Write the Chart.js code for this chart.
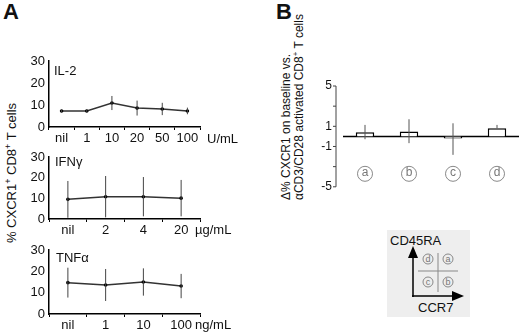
<!DOCTYPE html>
<html>
<head>
<meta charset="utf-8">
<script src="https://cdn.jsdelivr.net/npm/chart.js@4"></script>
<style>
  body { margin: 0; background: #fff; font-family: 'Liberation Sans', Arial, sans-serif; color: #111; }
  #wrap { position: relative; width: 520px; height: 334px; overflow: hidden; }
  canvas, .t, svg { position: absolute; }
  .t { font-size: 13px; line-height: 15px; white-space: nowrap; }
  .panel { font-size: 22px; font-weight: bold; line-height: 22px; }
</style>
</head>
<body>
<div id="wrap">
  <div class="t panel" style="left:3px;top:1px">A</div>
  <div class="t panel" style="left:276px;top:1px">B</div>

  <div class="t" style="left:10px;top:173px;transform:translate(-50%,-50%) rotate(-90deg)">% CXCR1<sup style="font-size:9px">+</sup> CD8<sup style="font-size:9px">+</sup> T cells</div>

  <canvas id="il2" width="240" height="97" style="left:0;top:50px"></canvas>
  <canvas id="ifn" width="240" height="93" style="left:0;top:146px"></canvas>
  <canvas id="tnf" width="240" height="95" style="left:0;top:239px"></canvas>

  <div class="t" style="left:54px;top:63px">IL-2</div>
  <div class="t" style="left:55px;top:154px">IFNγ</div>
  <div class="t" style="left:56px;top:250px">TNFα</div>
  <div class="t" style="left:207px;top:131px">U/mL</div>
  <div class="t" style="left:195px;top:222px">µg/mL</div>
  <div class="t" style="left:195px;top:317px">ng/mL</div>

  <div class="t" style="left:280px;top:200px;transform-origin:0 0;transform:rotate(-90deg);font-size:12px;line-height:13px">Δ% CXCR1 on baseline vs.<br>αCD3/CD28 activated CD8<sup style="font-size:8px;line-height:0">+</sup> T cells</div>

  <canvas id="chartB" width="210" height="119" style="left:310px;top:75px"></canvas>

  <svg width="100" height="95" style="left:380px;top:225px" font-family="Liberation Sans, Arial, sans-serif">
    <rect x="7" y="5" width="83" height="87" fill="#eeeeee"/>
    <text x="10" y="20" font-size="13" fill="#111">CD45RA</text>
    <line x1="33" y1="72" x2="33" y2="30" stroke="#000" stroke-width="1.5"/>
    <polygon points="33,21 28,33 38,33" fill="#000"/>
    <line x1="32" y1="71" x2="74" y2="71" stroke="#000" stroke-width="1.5"/>
    <polygon points="84,71 72,66 72,76" fill="#000"/>
    <line x1="58" y1="28" x2="58" y2="67" stroke="#888" stroke-width="1"/>
    <line x1="38" y1="46" x2="78" y2="46" stroke="#888" stroke-width="1"/>
    <g fill="none" stroke="#888" stroke-width="1">
      <circle cx="48" cy="34" r="5"/><circle cx="68" cy="34" r="5"/>
      <circle cx="48" cy="57" r="5"/><circle cx="68" cy="57" r="5"/>
    </g>
    <g font-size="9" fill="#777" text-anchor="middle">
      <text x="48" y="37">d</text><text x="68" y="37">a</text>
      <text x="48" y="60">c</text><text x="68" y="60">b</text>
    </g>
    <text x="38" y="87" font-size="13" fill="#111">CCR7</text>
  </svg>
</div>
<script>
// panel A: dose series (mean, SD)
const il2Doses = ['nil', '1', '10', '20', '50', '100']
const il2Values = [7.3, 7.3, 10.9, 8.6, 8.2, 7.3]
const il2Sd = [0.6, 0.6, 3.2, 3.4, 2.8, 1.5]

const ifnDoses = ['nil', '2', '4', '20']
const ifnValues = [9.5, 10.8, 10.8, 10.1]
const ifnSd = [8.9, 10.0, 9.5, 8.8]

const tnfDoses = ['nil', '1', '10', '100']
const tnfValues = [14.7, 13.6, 15.0, 13.1]
const tnfSd = [7.0, 7.5, 6.4, 5.7]

// panel B: delta per subset, with error range
const subsets = ['a', 'b', 'c', 'd']
const deltaValues = [0.42, 0.48, -0.2, 0.8]
const deltaLow = [-0.28, -0.67, -1.83, 0.8]
const deltaHigh = [1.14, 1.7, 1.3, 1.14]

Chart.defaults.font.family = "'Liberation Sans', Arial, sans-serif"
Chart.defaults.color = '#111'

const errorBars = {
  id: 'errorBars',
  afterDatasetsDraw(chart) {
    const ds = chart.data.datasets[0]
    const x = chart.scales.x, y = chart.scales.y, ctx = chart.ctx
    ctx.save()
    ctx.strokeStyle = ds.errColor || '#444'
    ctx.lineWidth = 1
    ds.data.forEach((v, i) => {
      const px = x.getPixelForValue(i)
      ctx.beginPath()
      ctx.moveTo(px, y.getPixelForValue(ds.errLow[i]))
      ctx.lineTo(px, y.getPixelForValue(ds.errHigh[i]))
      ctx.stroke()
    })
    ctx.restore()
  }
}

function doseChart(id, doses, values, sd) {
  return new Chart(document.getElementById(id), {
    type: 'line',
    data: {
      labels: doses,
      datasets: [{
        data: values,
        errLow: values.map((v, i) => v - sd[i]),
        errHigh: values.map((v, i) => v + sd[i]),
        errColor: '#444',
        borderColor: '#333',
        borderWidth: 1.5,
        pointRadius: 1.8,
        pointBackgroundColor: '#000',
        pointBorderWidth: 0,
        tension: 0
      }]
    },
    options: {
      responsive: false,
      animation: false,
      layout: { padding: { top: 11, right: 40, left: 0, bottom: 0 } },
      plugins: { legend: { display: false }, tooltip: { enabled: false } },
      scales: {
        x: {
          offset: true,
          grid: { offset: true, drawOnChartArea: false, tickLength: 3, color: '#000' },
          border: { color: '#000', width: 1.5 },
          ticks: { padding: 1, font: { size: 13 }, maxRotation: 0, autoSkip: false },
          afterFit(s) { s.height = 20 }
        },
        y: {
          min: 0, max: 30,
          ticks: { stepSize: 10, padding: 0, font: { size: 13 } },
          // hidden grid, but tickLength still spaces labels from the axis
          grid: { display: false, drawTicks: true, tickLength: 4 },
          border: { color: '#000', width: 1.5 },
          afterFit(s) { s.width = 49 }
        }
      }
    },
    plugins: [errorBars]
  })
}

doseChart('il2', il2Doses, il2Values, il2Sd)
doseChart('ifn', ifnDoses, ifnValues, ifnSd)
doseChart('tnf', tnfDoses, tnfValues, tnfSd)

// y axis of panel B sits a few px left of the plot; zero line across the plot
const offsetAxis = {
  id: 'offsetAxis',
  beforeDatasetsDraw(chart) {
    const y = chart.scales.y, ctx = chart.ctx, area = chart.chartArea
    const ax = area.left - 7
    ctx.save()
    ctx.strokeStyle = '#444'
    ctx.lineWidth = 1
    ctx.beginPath()
    ctx.moveTo(ax, y.top)
    ctx.lineTo(ax, y.bottom)
    y.ticks.forEach(t => {
      const py = y.getPixelForValue(t.value)
      ctx.moveTo(ax - 3, py)
      ctx.lineTo(ax, py)
    })
    ctx.stroke()
    ctx.strokeStyle = '#000'
    ctx.lineWidth = 1.5
    ctx.beginPath()
    ctx.moveTo(area.left, y.getPixelForValue(0))
    ctx.lineTo(area.right, y.getPixelForValue(0))
    ctx.stroke()
    ctx.restore()
  }
}

const circledLabels = {
  id: 'circledLabels',
  afterDraw(chart) {
    const x = chart.scales.x, ctx = chart.ctx
    const cy = chart.chartArea.bottom - 13
    ctx.save()
    ctx.strokeStyle = '#888'
    ctx.fillStyle = '#777'
    ctx.lineWidth = 1
    ctx.font = "12px 'Liberation Sans', Arial, sans-serif"
    ctx.textAlign = 'center'
    ctx.textBaseline = 'middle'
    chart.data.labels.forEach((lab, i) => {
      const px = x.getPixelForValue(i)
      ctx.beginPath()
      ctx.arc(px, cy, 7.5, 0, Math.PI * 2)
      ctx.stroke()
      ctx.fillText(lab, px, cy - 1)
    })
    ctx.restore()
  }
}

new Chart(document.getElementById('chartB'), {
  type: 'bar',
  data: {
    labels: subsets,
    datasets: [{
      data: deltaValues,
      errLow: deltaLow,
      errHigh: deltaHigh,
      errColor: '#555',
      backgroundColor: '#fff',
      borderColor: '#000',
      borderWidth: 1.5,
      barPercentage: 0.42,
      categoryPercentage: 1
    }]
  },
  options: {
    responsive: false,
    animation: false,
    layout: { padding: { top: 11, right: 1, bottom: 0, left: 0 } },
    plugins: { legend: { display: false }, tooltip: { enabled: false } },
    scales: {
      x: { display: false },
      y: {
        min: -5, max: 5,
        ticks: { stepSize: 2, padding: 0, font: { size: 12 }, callback: v => Math.abs(v) === 3 ? '' : v },
        grid: { display: false, drawTicks: true, tickLength: 11 },
        border: { display: false },
        afterFit(s) { s.width = 33 }
      }
    }
  },
  plugins: [errorBars, offsetAxis, circledLabels]
})
</script>
</body>
</html>
